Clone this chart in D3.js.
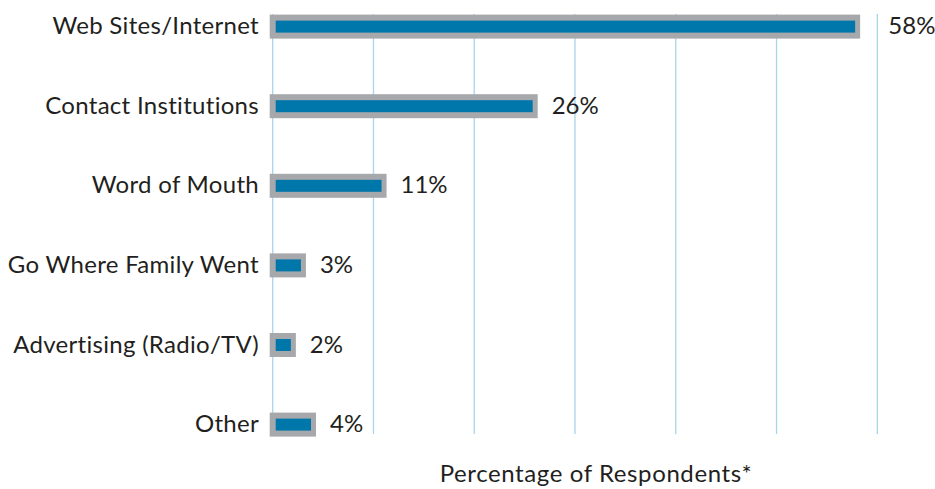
<!DOCTYPE html>
<html><head><meta charset="utf-8">
<script src="https://cdn.jsdelivr.net/npm/d3@7/dist/d3.min.js"></script>
<style>body{margin:0;background:#fff}svg{display:block}text{font-family:Lato,"Open Sans",sans-serif;fill:#231f20}</style>
</head><body>
<svg id="c" width="935" height="489"></svg>
<script>
const categories = ["Web Sites/Internet","Contact Institutions","Word of Mouth","Go Where Family Went","Advertising (Radio/TV)","Other"];
const values = [58, 26, 11, 3, 2, 4];
const gridTicks = [0, 10, 20, 30, 40, 50, 60];
const axisTitle = "Percentage of Respondents*";

const svg = d3.select("#c");
const x = d3.scaleLinear().domain([0, 60]).range([272.7, 877.3]);
const y = d3.scaleBand().domain(categories).range([-13.2, 464.4]).paddingInner(0).paddingOuter(0);
const cy = d => y(d) + y.bandwidth() / 2;

// gridlines
svg.append("g").selectAll("line").data(gridTicks).join("line")
  .attr("x1", d => x(d)).attr("x2", d => x(d))
  .attr("y1", 14).attr("y2", 434)
  .attr("stroke", "#a9d5e8").attr("stroke-width", 1.3);

const data = categories.map((c, i) => ({c, v: values[i]}));
const g = svg.append("g");
g.selectAll("rect.outer").data(data).join("rect").attr("class","outer")
  .attr("x", x(0) - 3).attr("y", d => cy(d.c) - 12)
  .attr("width", d => x(d.v) - x(0) + 6).attr("height", 24)
  .attr("fill", "#a7a8ab");
g.selectAll("rect.inner").data(data).join("rect").attr("class","inner")
  .attr("x", x(0) + 3).attr("y", d => cy(d.c) - 6)
  .attr("width", d => x(d.v) - x(0) - 5).attr("height", 12)
  .attr("fill", "#0077aa");

// value labels: placed after bar end, nudged past a gridline if they would start on one
function labelX(v) {
  let lx = x(v) + 3 + 14;
  gridTicks.forEach(t => { const gx = x(t); if (Math.abs(gx - lx) < 6) lx = gx + 11; });
  return lx;
}
g.selectAll("text.val").data(data).join("text").attr("class","val")
  .attr("x", d => labelX(d.v)).attr("y", d => cy(d.c) + 7.5)
  .attr("font-size", 24).text(d => d.v + "%");

// category labels
g.selectAll("text.cat").data(data).join("text").attr("class","cat")
  .attr("x", 259).attr("y", d => cy(d.c) + 7.5).attr("text-anchor","end")
  .attr("font-size", 24).attr("letter-spacing", 0.3).text(d => d.c);

svg.append("text").attr("x", 596).attr("y", 482).attr("text-anchor","middle")
  .attr("font-size", 24).attr("letter-spacing", 0.6).text(axisTitle);
</script>
</body></html>
